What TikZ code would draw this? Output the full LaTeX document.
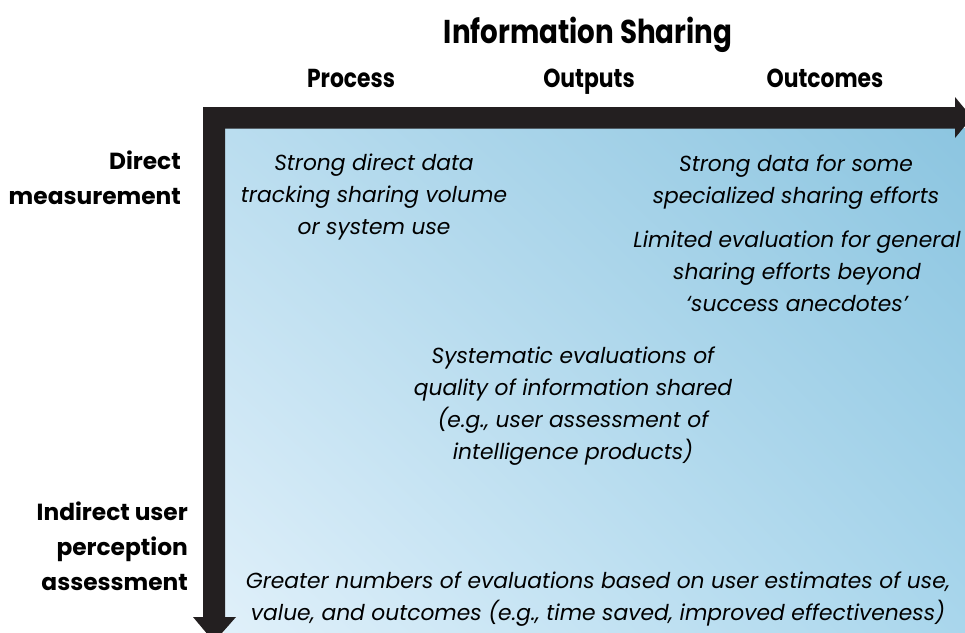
\documentclass[tikz,border=0pt]{standalone}
\usepackage{fontspec}
\setmainfont{Poppins}
\usetikzlibrary{positioning,shadings}
\definecolor{arrowblk}{HTML}{231F20}
\definecolor{bgTL}{HTML}{BADDEF}
\definecolor{bgTR}{HTML}{8CC5E0}
\definecolor{bgBL}{HTML}{E0F0FA}
\definecolor{bgBR}{HTML}{A9D6EC}
\newfontfamily\condbold[FakeStretch=0.84]{Poppins}
\tikzset{
  titletext/.style={font=\condbold\bfseries\fontsize{33}{36}\selectfont, inner sep=0pt, anchor=base},
  headtext/.style={font=\condbold\bfseries\fontsize{26}{28}\selectfont, inner sep=0pt, anchor=base},
  rowtext/.style={font=\bfseries\fontsize{23.3}{35}\selectfont, inner sep=0pt, align=right, anchor=east},
  celltext/.style={font=\itshape\fontsize{21.8}{32}\selectfont, inner sep=0pt, align=center},
}
\begin{document}
\begin{tikzpicture}[x=1pt,y=-1pt]
\useasboundingbox (0,0) rectangle (965,632);
\begin{scope}
\clip (0,0) rectangle (965,632);
\shade[upper left=bgTL, upper right=bgTR, lower left=bgBL, lower right=bgBR] (224,128) rectangle (965,632);
% horizontal arrow
\fill[arrowblk] (203,107) -- (955,107) -- (955,97) -- (972,117.5) -- (955,138) -- (955,128.5) -- (203,128.5) -- cycle;
% vertical arrow
\fill[arrowblk] (203,107) -- (225,107) -- (225,617) -- (236,617) -- (214,642) -- (193,617) -- (203,617) -- cycle;
\end{scope}
\node[titletext] (title) at (588,43) {Information Sharing};
\node[headtext] (proc) at (351,87) {Process};
\node[headtext] (outp) at (589,87) {Outputs};
\node[headtext] (outc) at (825,87) {Outcomes};
\node[rowtext] (direct) at (181,178) {Direct\\measurement};
\node[rowtext] (indirect) at (188,546) {Indirect user\\perception\\assessment};
\node[celltext] (c1) at (374,197) {Strong direct data\\tracking sharing volume\\or system use};
\node[celltext] (c2) at (796,182) {Strong data for some\\specialized sharing efforts};
\node[celltext] (c3) at (797,271) {Limited evaluation for general\\sharing efforts beyond\\‘success anecdotes’};
\node[celltext] (c4) at (573,406) {Systematic evaluations of\\quality of information shared\\(e.g., user assessment of\\intelligence products)};
\node[celltext] (c5) at (598,599) {Greater numbers of evaluations based on user estimates of use,\\value, and outcomes (e.g., time saved, improved effectiveness)};
\end{tikzpicture}
\end{document}
